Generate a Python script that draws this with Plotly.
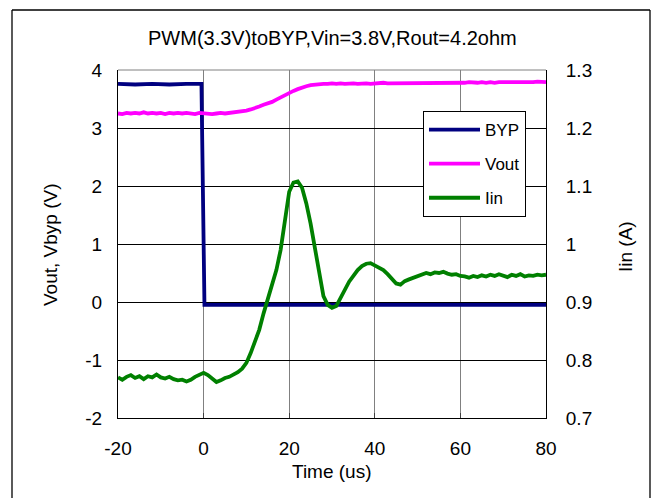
import plotly.graph_objects as go

# ---- data ----
time_us = list(range(-20, 81))

vout = [3.25, 3.24, 3.26, 3.25, 3.26, 3.25, 3.27, 3.25, 3.26, 3.25,
        3.26, 3.24, 3.26, 3.25, 3.26, 3.25, 3.26, 3.25, 3.24, 3.26,
        3.25, 3.25, 3.24, 3.25, 3.26, 3.25, 3.26, 3.26, 3.27, 3.28,
        3.30, 3.32, 3.34, 3.37, 3.40, 3.42, 3.45, 3.49, 3.53, 3.57,
        3.60, 3.64, 3.67, 3.70, 3.72, 3.74, 3.75, 3.75, 3.76, 3.76,
        3.77, 3.76, 3.77, 3.76, 3.77, 3.77, 3.76, 3.77, 3.77, 3.76,
        3.77, 3.77, 3.78, 3.77, 3.77, 3.78, 3.77, 3.78, 3.77, 3.78,
        3.78, 3.77, 3.78, 3.78, 3.77, 3.78, 3.78, 3.78, 3.77, 3.78,
        3.78, 3.78, 3.79, 3.78, 3.78, 3.79, 3.78, 3.79, 3.78, 3.79,
        3.79, 3.78, 3.79, 3.79, 3.79, 3.78, 3.79, 3.79, 3.80, 3.79,
        3.79]

iin = [0.770, 0.766, 0.771, 0.774, 0.769, 0.772, 0.767, 0.772, 0.770, 0.775,
       0.770, 0.768, 0.771, 0.767, 0.765, 0.766, 0.763, 0.766, 0.771, 0.774,
       0.778, 0.774, 0.767, 0.762, 0.765, 0.769, 0.771, 0.775, 0.779, 0.785,
       0.795, 0.812, 0.832, 0.852, 0.880, 0.905, 0.930, 0.955, 0.990, 1.045,
       1.090, 1.106, 1.108, 1.097, 1.070, 1.035, 0.990, 0.945, 0.910, 0.895,
       0.890, 0.893, 0.908, 0.920, 0.935, 0.945, 0.955, 0.962, 0.966, 0.967,
       0.963, 0.958, 0.955, 0.948, 0.940, 0.932, 0.930, 0.936, 0.939, 0.942,
       0.945, 0.947, 0.950, 0.948, 0.951, 0.950, 0.952, 0.949, 0.947, 0.948,
       0.945, 0.944, 0.942, 0.945, 0.943, 0.946, 0.944, 0.947, 0.945, 0.948,
       0.945, 0.943, 0.947, 0.945, 0.948, 0.944, 0.946, 0.945, 0.947, 0.946,
       0.947]

byp_time = [-20, -16, -12, -8, -4, -0.5, 0.2, 10, 20, 30, 40, 50, 60, 70, 80]
byp = [3.76, 3.75, 3.76, 3.75, 3.76, 3.76, -0.05, -0.05, -0.04, -0.05,
       -0.05, -0.05, -0.04, -0.05, -0.05]

x_ticks = [-20, 0, 20, 40, 60, 80]
x_labels = ["-20", "0", "20", "40", "60", "80"]
y_ticks = [-2, -1, 0, 1, 2, 3, 4]
y_labels = ["-2", "-1", "0", "1", "2", "3", "4"]
y2_ticks = [0.7, 0.8, 0.9, 1.0, 1.1, 1.2, 1.3]
y2_labels = ["0.7", "0.8", "0.9", "1", "1.1", "1.2", "1.3"]

title_text = "PWM(3.3V)toBYP,Vin=3.8V,Rout=4.2ohm"

FONT = "Liberation Sans, Arial, sans-serif"

fig = go.Figure()
fig.add_trace(go.Scatter(x=byp_time, y=byp, name="BYP", mode="lines",
                         line=dict(color="#000080", width=3.8),
                         legendgroup="a"))
fig.add_trace(go.Scatter(x=time_us, y=vout, name="Vout", mode="lines",
                         line=dict(color="#FF00FF", width=3.8),
                         legendgroup="b"))
fig.add_trace(go.Scatter(x=time_us, y=iin, name="Iin", mode="lines",
                         line=dict(color="#008000", width=3.8),
                         legendgroup="c", yaxis="y2"))

L, R, T, B = 118, 546, 70, 418
W, H = 657, 498
pw, ph = R - L, B - T

def px(x):
    return (x - L) / pw

def py(y):
    return (B - y) / ph

fig.update_layout(
    width=W, height=H,
    margin=dict(l=L, r=W - R, t=T, b=H - B, pad=0),
    paper_bgcolor="white", plot_bgcolor="white",
    font=dict(family=FONT, size=19, color="black"),
    showlegend=True,
    legend=dict(x=px(423), y=py(111), xanchor="left", yanchor="top",
                bgcolor="white", bordercolor="black", borderwidth=1,
                font=dict(size=17), tracegroupgap=9, itemwidth=51,
                traceorder="grouped"),
    xaxis=dict(range=[-20, 80], tickvals=x_ticks, ticktext=x_labels,
               showgrid=True, gridcolor="#808080", gridwidth=1,
               zeroline=False, showline=True, linecolor="black", linewidth=1,
               ticks="inside", ticklen=5, tickcolor="#404040",
               ticklabelstandoff=13),
    yaxis=dict(range=[-2, 4], tickvals=y_ticks, ticktext=y_labels,
               showgrid=True, gridcolor="black", gridwidth=1, zeroline=False,
               showline=True, linecolor="black", linewidth=1,
               ticks="", ticklabelstandoff=11),
    yaxis2=dict(range=[0.7, 1.3], tickvals=y2_ticks, ticktext=y2_labels,
                overlaying="y", side="right", showgrid=False,
                zeroline=False, showline=True, linecolor="black",
                linewidth=1, ticks="", ticklabelstandoff=15),
    shapes=[
        dict(type="line", xref="paper", yref="paper", x0=0, x1=1, y0=1, y1=1,
             line=dict(color="#808080", width=1)),
        dict(type="line", xref="paper", yref="paper",
             x0=px(12), x1=px(12), y0=py(498), y1=py(10),
             line=dict(color="black", width=1.3)),
        dict(type="line", xref="paper", yref="paper",
             x0=px(650), x1=px(650), y0=py(498), y1=py(10),
             line=dict(color="black", width=1.3)),
        dict(type="line", xref="paper", yref="paper",
             x0=px(12), x1=px(650), y0=py(10), y1=py(10),
             line=dict(color="black", width=1.3)),
    ],
    annotations=[
        dict(text=title_text, xref="paper", yref="paper", x=px(332), y=py(38),
             showarrow=False, font=dict(size=20), xanchor="center",
             yanchor="middle"),
        dict(text="Time (us)", xref="paper", yref="paper", x=px(332), y=py(471),
             showarrow=False, font=dict(size=19), xanchor="center",
             yanchor="middle"),
        dict(text="Vout, Vbyp (V)", xref="paper", yref="paper", x=px(50),
             y=py(245), showarrow=False, textangle=-90, font=dict(size=19),
             xanchor="center", yanchor="middle"),
        dict(text="Iin (A)", xref="paper", yref="paper", x=px(625),
             y=py(247), showarrow=False, textangle=-90, font=dict(size=19),
             xanchor="center", yanchor="middle"),
    ],
)

fig.write_html("out.html",
               config={"displayModeBar": False},
               post_script="document.body.style.margin='0px';"
                           "document.body.style.overflow='hidden';")
